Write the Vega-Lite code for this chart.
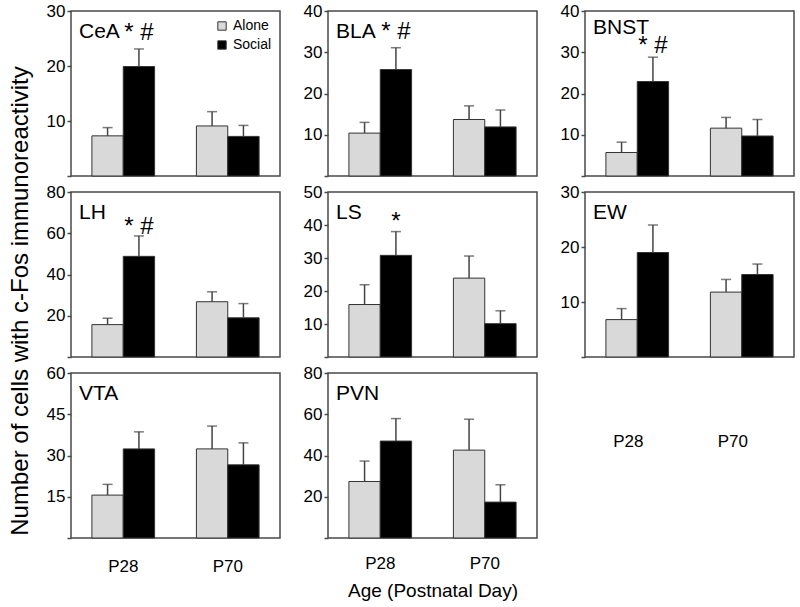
{
  "$schema": "https://vega.github.io/schema/vega-lite/v6.json",
  "padding": {"left": 9, "top": 1, "right": 5, "bottom": 5},
  "background": "white",
  "title": {"text": "Number of cells with c-Fos immunoreactivity", "orient": "left", "anchor": "middle", "frame": "bounds", "offset": -12, "dx": 0, "dy": 0, "fontSize": 24, "baseline": "bottom"},
  "datasets": {
    "d": [
      {"region": "CeA", "age": "P28", "group": "Alone", "value": 7.3, "upper": 8.8},
      {"region": "CeA", "age": "P28", "group": "Social", "value": 19.9, "upper": 23.1, "mark": "* #", "markY": 26},
      {"region": "CeA", "age": "P70", "group": "Alone", "value": 9.1, "upper": 11.7},
      {"region": "CeA", "age": "P70", "group": "Social", "value": 7.2, "upper": 9.2},
      {"region": "BLA", "age": "P28", "group": "Alone", "value": 10.4, "upper": 13.0},
      {"region": "BLA", "age": "P28", "group": "Social", "value": 25.8, "upper": 31.1, "mark": "* #", "markY": 35},
      {"region": "BLA", "age": "P70", "group": "Alone", "value": 13.7, "upper": 17.0},
      {"region": "BLA", "age": "P70", "group": "Social", "value": 11.9, "upper": 16.0},
      {"region": "BNST", "age": "P28", "group": "Alone", "value": 5.7, "upper": 8.2},
      {"region": "BNST", "age": "P28", "group": "Social", "value": 22.9, "upper": 28.8, "mark": "* #", "markY": 31.5},
      {"region": "BNST", "age": "P70", "group": "Alone", "value": 11.6, "upper": 14.2},
      {"region": "BNST", "age": "P70", "group": "Social", "value": 9.7, "upper": 13.7},
      {"region": "LH", "age": "P28", "group": "Alone", "value": 15.7, "upper": 18.8},
      {"region": "LH", "age": "P28", "group": "Social", "value": 48.8, "upper": 58.7, "mark": "* #", "markY": 63},
      {"region": "LH", "age": "P70", "group": "Alone", "value": 26.8, "upper": 31.6},
      {"region": "LH", "age": "P70", "group": "Social", "value": 19.0, "upper": 25.9},
      {"region": "LS", "age": "P28", "group": "Alone", "value": 15.9, "upper": 21.9},
      {"region": "LS", "age": "P28", "group": "Social", "value": 30.8, "upper": 38.0, "mark": "*", "markY": 41},
      {"region": "LS", "age": "P70", "group": "Alone", "value": 23.9, "upper": 30.6},
      {"region": "LS", "age": "P70", "group": "Social", "value": 10.1, "upper": 14.0},
      {"region": "EW", "age": "P28", "group": "Alone", "value": 6.8, "upper": 8.8},
      {"region": "EW", "age": "P28", "group": "Social", "value": 19.0, "upper": 24.0},
      {"region": "EW", "age": "P70", "group": "Alone", "value": 11.8, "upper": 14.1},
      {"region": "EW", "age": "P70", "group": "Social", "value": 15.0, "upper": 16.9},
      {"region": "VTA", "age": "P28", "group": "Alone", "value": 15.6, "upper": 19.5},
      {"region": "VTA", "age": "P28", "group": "Social", "value": 32.4, "upper": 38.6},
      {"region": "VTA", "age": "P70", "group": "Alone", "value": 32.4, "upper": 40.7},
      {"region": "VTA", "age": "P70", "group": "Social", "value": 26.6, "upper": 34.6},
      {"region": "PVN", "age": "P28", "group": "Alone", "value": 27.4, "upper": 37.3},
      {"region": "PVN", "age": "P28", "group": "Social", "value": 47.0, "upper": 57.9},
      {"region": "PVN", "age": "P70", "group": "Alone", "value": 42.6, "upper": 57.6},
      {"region": "PVN", "age": "P70", "group": "Social", "value": 17.4, "upper": 25.8}
    ]
  },
  "data": {"name": "d"},
  "columns": 3,
  "spacing": {"row": 16, "column": 48},
  "bounds": "flush",
  "resolve": {"legend": {"color": "independent"}},
  "concat": [
    {
      "width": 209, "height": 165,
      "title": {"text": "CeA"},
      "transform": [{"filter": "datum.region == 'CeA'"}],
      "encoding": {
        "x": {"field": "age", "type": "nominal", "scale": {"paddingInner": 0.4, "paddingOuter": 0.2}, "axis": null},
        "xOffset": {"field": "group", "type": "nominal", "scale": {"paddingInner": 0, "paddingOuter": 0}}
      },
      "layer": [
        {"mark": {"type": "bar", "stroke": "#333", "strokeWidth": 1},
         "encoding": {
           "y": {"field": "value", "type": "quantitative", "scale": {"domain": [0, 30]}, "axis": {"values": [0, 10, 20, 30], "tickCount": 4, "title": null, "labelOverlap": false}},
           "color": {"field": "group", "type": "nominal", "scale": {"domain": ["Alone", "Social"], "range": ["#d9d9d9", "#000000"]},
             "legend": {"orient": "top-right", "title": null, "symbolType": "square", "symbolSize": 70, "symbolStrokeColor": "#333", "symbolStrokeWidth": 1, "labelFontSize": 14, "offset": 8, "padding": 0, "rowPadding": 5}}
         }},
        {"mark": {"type": "rule", "color": "#444", "strokeWidth": 1.5},
         "encoding": {"y": {"field": "value", "type": "quantitative", "title": null}, "y2": {"field": "upper"}}},
        {"mark": {"type": "tick", "orient": "horizontal", "size": 10, "thickness": 1.5, "color": "#444"},
         "encoding": {"y": {"field": "upper", "type": "quantitative", "title": null}}},
        {"mark": {"type": "text", "fontSize": 24, "baseline": "middle", "color": "#000"},
         "transform": [{"filter": "datum.mark"}],
         "encoding": {"y": {"field": "markY", "type": "quantitative", "title": null}, "text": {"field": "mark"}}}
      ]
    },
    {
      "width": 209, "height": 165,
      "title": {"text": "BLA"},
      "transform": [{"filter": "datum.region == 'BLA'"}],
      "encoding": {
        "x": {"field": "age", "type": "nominal", "scale": {"paddingInner": 0.4, "paddingOuter": 0.2}, "axis": null},
        "xOffset": {"field": "group", "type": "nominal", "scale": {"paddingInner": 0, "paddingOuter": 0}}
      },
      "layer": [
        {"mark": {"type": "bar", "stroke": "#333", "strokeWidth": 1},
         "encoding": {
           "y": {"field": "value", "type": "quantitative", "scale": {"domain": [0, 40]}, "axis": {"values": [0, 10, 20, 30, 40], "tickCount": 5, "title": null, "labelOverlap": false}},
           "color": {"field": "group", "type": "nominal", "scale": {"domain": ["Alone", "Social"], "range": ["#d9d9d9", "#000000"]}, "legend": null}
         }},
        {"mark": {"type": "rule", "color": "#444", "strokeWidth": 1.5},
         "encoding": {"y": {"field": "value", "type": "quantitative", "title": null}, "y2": {"field": "upper"}}},
        {"mark": {"type": "tick", "orient": "horizontal", "size": 10, "thickness": 1.5, "color": "#444"},
         "encoding": {"y": {"field": "upper", "type": "quantitative", "title": null}}},
        {"mark": {"type": "text", "fontSize": 24, "baseline": "middle", "color": "#000"},
         "transform": [{"filter": "datum.mark"}],
         "encoding": {"y": {"field": "markY", "type": "quantitative", "title": null}, "text": {"field": "mark"}}}
      ]
    },
    {
      "width": 209, "height": 165,
      "title": {"text": "BNST", "offset": -36},
      "transform": [{"filter": "datum.region == 'BNST'"}],
      "encoding": {
        "x": {"field": "age", "type": "nominal", "scale": {"paddingInner": 0.4, "paddingOuter": 0.2}, "axis": null},
        "xOffset": {"field": "group", "type": "nominal", "scale": {"paddingInner": 0, "paddingOuter": 0}}
      },
      "layer": [
        {"mark": {"type": "bar", "stroke": "#333", "strokeWidth": 1},
         "encoding": {
           "y": {"field": "value", "type": "quantitative", "scale": {"domain": [0, 40]}, "axis": {"values": [0, 10, 20, 30, 40], "tickCount": 5, "title": null, "labelOverlap": false}},
           "color": {"field": "group", "type": "nominal", "scale": {"domain": ["Alone", "Social"], "range": ["#d9d9d9", "#000000"]}, "legend": null}
         }},
        {"mark": {"type": "rule", "color": "#444", "strokeWidth": 1.5},
         "encoding": {"y": {"field": "value", "type": "quantitative", "title": null}, "y2": {"field": "upper"}}},
        {"mark": {"type": "tick", "orient": "horizontal", "size": 10, "thickness": 1.5, "color": "#444"},
         "encoding": {"y": {"field": "upper", "type": "quantitative", "title": null}}},
        {"mark": {"type": "text", "fontSize": 24, "baseline": "middle", "color": "#000"},
         "transform": [{"filter": "datum.mark"}],
         "encoding": {"y": {"field": "markY", "type": "quantitative", "title": null}, "text": {"field": "mark"}}}
      ]
    },
    {
      "width": 209, "height": 165,
      "title": {"text": "LH"},
      "transform": [{"filter": "datum.region == 'LH'"}],
      "encoding": {
        "x": {"field": "age", "type": "nominal", "scale": {"paddingInner": 0.4, "paddingOuter": 0.2}, "axis": null},
        "xOffset": {"field": "group", "type": "nominal", "scale": {"paddingInner": 0, "paddingOuter": 0}}
      },
      "layer": [
        {"mark": {"type": "bar", "stroke": "#333", "strokeWidth": 1},
         "encoding": {
           "y": {"field": "value", "type": "quantitative", "scale": {"domain": [0, 80]}, "axis": {"values": [0, 20, 40, 60, 80], "tickCount": 5, "title": null, "labelOverlap": false}},
           "color": {"field": "group", "type": "nominal", "scale": {"domain": ["Alone", "Social"], "range": ["#d9d9d9", "#000000"]}, "legend": null}
         }},
        {"mark": {"type": "rule", "color": "#444", "strokeWidth": 1.5},
         "encoding": {"y": {"field": "value", "type": "quantitative", "title": null}, "y2": {"field": "upper"}}},
        {"mark": {"type": "tick", "orient": "horizontal", "size": 10, "thickness": 1.5, "color": "#444"},
         "encoding": {"y": {"field": "upper", "type": "quantitative", "title": null}}},
        {"mark": {"type": "text", "fontSize": 24, "baseline": "middle", "color": "#000"},
         "transform": [{"filter": "datum.mark"}],
         "encoding": {"y": {"field": "markY", "type": "quantitative", "title": null}, "text": {"field": "mark"}}}
      ]
    },
    {
      "width": 209, "height": 165,
      "title": {"text": "LS"},
      "transform": [{"filter": "datum.region == 'LS'"}],
      "encoding": {
        "x": {"field": "age", "type": "nominal", "scale": {"paddingInner": 0.4, "paddingOuter": 0.2}, "axis": null},
        "xOffset": {"field": "group", "type": "nominal", "scale": {"paddingInner": 0, "paddingOuter": 0}}
      },
      "layer": [
        {"mark": {"type": "bar", "stroke": "#333", "strokeWidth": 1},
         "encoding": {
           "y": {"field": "value", "type": "quantitative", "scale": {"domain": [0, 50]}, "axis": {"values": [0, 10, 20, 30, 40, 50], "tickCount": 6, "title": null, "labelOverlap": false}},
           "color": {"field": "group", "type": "nominal", "scale": {"domain": ["Alone", "Social"], "range": ["#d9d9d9", "#000000"]}, "legend": null}
         }},
        {"mark": {"type": "rule", "color": "#444", "strokeWidth": 1.5},
         "encoding": {"y": {"field": "value", "type": "quantitative", "title": null}, "y2": {"field": "upper"}}},
        {"mark": {"type": "tick", "orient": "horizontal", "size": 10, "thickness": 1.5, "color": "#444"},
         "encoding": {"y": {"field": "upper", "type": "quantitative", "title": null}}},
        {"mark": {"type": "text", "fontSize": 24, "baseline": "middle", "color": "#000"},
         "transform": [{"filter": "datum.mark"}],
         "encoding": {"y": {"field": "markY", "type": "quantitative", "title": null}, "text": {"field": "mark"}}}
      ]
    },
    {
      "width": 209, "height": 165,
      "title": {"text": "EW"},
      "transform": [{"filter": "datum.region == 'EW'"}],
      "encoding": {
        "x": {"field": "age", "type": "nominal", "scale": {"paddingInner": 0.4, "paddingOuter": 0.2},
          "axis": {"title": null, "ticks": false, "domain": false, "labelAngle": 0, "labelPadding": 76, "labelOffset": -9}},
        "xOffset": {"field": "group", "type": "nominal", "scale": {"paddingInner": 0, "paddingOuter": 0}}
      },
      "layer": [
        {"mark": {"type": "bar", "stroke": "#333", "strokeWidth": 1},
         "encoding": {
           "y": {"field": "value", "type": "quantitative", "scale": {"domain": [0, 30]}, "axis": {"values": [0, 10, 20, 30], "tickCount": 4, "title": null, "labelOverlap": false}},
           "color": {"field": "group", "type": "nominal", "scale": {"domain": ["Alone", "Social"], "range": ["#d9d9d9", "#000000"]}, "legend": null}
         }},
        {"mark": {"type": "rule", "color": "#444", "strokeWidth": 1.5},
         "encoding": {"y": {"field": "value", "type": "quantitative", "title": null}, "y2": {"field": "upper"}}},
        {"mark": {"type": "tick", "orient": "horizontal", "size": 10, "thickness": 1.5, "color": "#444"},
         "encoding": {"y": {"field": "upper", "type": "quantitative", "title": null}}}
      ]
    },
    {
      "width": 209, "height": 165,
      "title": {"text": "VTA"},
      "transform": [{"filter": "datum.region == 'VTA'"}],
      "encoding": {
        "x": {"field": "age", "type": "nominal", "scale": {"paddingInner": 0.4, "paddingOuter": 0.2},
          "axis": {"title": null, "ticks": false, "domain": false, "labelAngle": 0, "labelPadding": 20}},
        "xOffset": {"field": "group", "type": "nominal", "scale": {"paddingInner": 0, "paddingOuter": 0}}
      },
      "layer": [
        {"mark": {"type": "bar", "stroke": "#333", "strokeWidth": 1},
         "encoding": {
           "y": {"field": "value", "type": "quantitative", "scale": {"domain": [0, 60]}, "axis": {"values": [0, 15, 30, 45, 60], "tickCount": 5, "title": null, "labelOverlap": false}},
           "color": {"field": "group", "type": "nominal", "scale": {"domain": ["Alone", "Social"], "range": ["#d9d9d9", "#000000"]}, "legend": null}
         }},
        {"mark": {"type": "rule", "color": "#444", "strokeWidth": 1.5},
         "encoding": {"y": {"field": "value", "type": "quantitative", "title": null}, "y2": {"field": "upper"}}},
        {"mark": {"type": "tick", "orient": "horizontal", "size": 10, "thickness": 1.5, "color": "#444"},
         "encoding": {"y": {"field": "upper", "type": "quantitative", "title": null}}}
      ]
    },
    {
      "width": 209, "height": 165,
      "title": {"text": "PVN"},
      "transform": [{"filter": "datum.region == 'PVN'"}],
      "encoding": {
        "x": {"field": "age", "type": "nominal", "scale": {"paddingInner": 0.4, "paddingOuter": 0.2},
          "axis": {"title": "Age (Postnatal Day)", "titleFontSize": 19, "titlePadding": 10, "ticks": false, "domain": false, "labelAngle": 0, "labelPadding": 17}},
        "xOffset": {"field": "group", "type": "nominal", "scale": {"paddingInner": 0, "paddingOuter": 0}}
      },
      "layer": [
        {"mark": {"type": "bar", "stroke": "#333", "strokeWidth": 1},
         "encoding": {
           "y": {"field": "value", "type": "quantitative", "scale": {"domain": [0, 80]}, "axis": {"values": [0, 20, 40, 60, 80], "tickCount": 5, "title": null, "labelOverlap": false}},
           "color": {"field": "group", "type": "nominal", "scale": {"domain": ["Alone", "Social"], "range": ["#d9d9d9", "#000000"]}, "legend": null}
         }},
        {"mark": {"type": "rule", "color": "#444", "strokeWidth": 1.5},
         "encoding": {"y": {"field": "value", "type": "quantitative", "title": null}, "y2": {"field": "upper"}}},
        {"mark": {"type": "tick", "orient": "horizontal", "size": 10, "thickness": 1.5, "color": "#444"},
         "encoding": {"y": {"field": "upper", "type": "quantitative", "title": null}}}
      ]
    }
  ],
  "config": {
    "font": "Liberation Sans",
    "view": {"stroke": "#4a4a4a", "strokeWidth": 1.5},
    "title": {"anchor": "start", "frame": "group", "orient": "top", "offset": -40, "dx": 8, "fontSize": 21, "fontWeight": "normal", "color": "#000", "baseline": "alphabetic"},
    "axis": {"labelFont": "Liberation Sans", "labelFontSize": 17, "labelColor": "#000", "titleFont": "Liberation Sans", "titleColor": "#000", "titleFontWeight": "normal", "grid": false},
    "axisY": {"domain": false, "tickSize": 4, "tickColor": "#4a4a4a", "tickWidth": 1.5, "labelPadding": 2, "labelOverlap": false, "labelExpr": "datum.value == 0 ? '' : datum.label"},
    "legend": {"labelFont": "Liberation Sans", "labelColor": "#000"}
  }
}
